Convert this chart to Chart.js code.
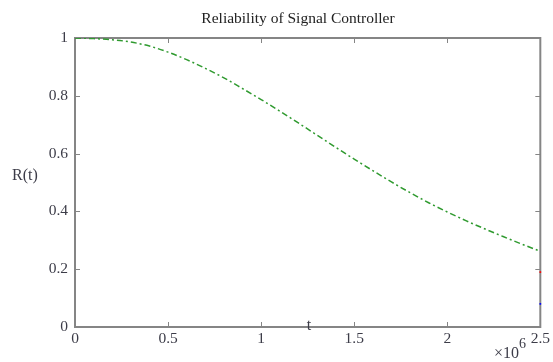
<!DOCTYPE html>
<html>
<head>
<meta charset="utf-8">
<script src="https://cdn.jsdelivr.net/npm/chart.js@4/dist/chart.umd.min.js"></script>
<style>
  html, body { margin: 0; padding: 0; background: #fff; }
  #wrap { width: 553px; height: 362px; }
</style>
</head>
<body>
<div id="wrap"><canvas id="relChart" width="553" height="362"></canvas></div>
<script>
// t in units of 10^6
const tValues = [0, 0.1, 0.2, 0.3, 0.4, 0.5, 0.6, 0.7, 0.8, 0.9, 1.0, 1.1, 1.2,
                 1.3, 1.4, 1.5, 1.6, 1.7, 1.8, 1.9, 2.0, 2.1, 2.2, 2.3, 2.4, 2.5];
const reliability = [1.000, 0.998, 0.994, 0.986, 0.972, 0.951, 0.925, 0.895, 0.862, 0.825,
                     0.787, 0.747, 0.706, 0.664, 0.622, 0.581, 0.541, 0.502, 0.465, 0.430,
                     0.398, 0.368, 0.340, 0.313, 0.287, 0.262];
// small red / blue marks visible on the right border
const redMark = [{ x: 2.5, y: 0.19 }];
const blueMark = [{ x: 2.5, y: 0.08 }];

const xTicks = [0, 0.5, 1, 1.5, 2, 2.5];
const yTicks = [0, 0.2, 0.4, 0.6, 0.8, 1];
const xTickLabels = ['0', '0.5', '1', '1.5', '2', '2.5'];
const yTickLabels = ['0', '0.2', '0.4', '0.6', '0.8', '1'];

const serif = '"Liberation Serif", "DejaVu Serif", serif';
const labelColor = '#3c3c48';
const boxColor = '#858585';

// MATLAB style box, inward ticks and extra labels (drawn under the lines)
const matlabFrame = {
    id: 'matlabFrame',
    beforeDatasetsDraw(chart) {
        const ctx = chart.ctx;
        const a = chart.chartArea;
        const xs = chart.scales.x, ys = chart.scales.y;
        ctx.save();
        ctx.strokeStyle = boxColor;
        ctx.lineWidth = 2;
        ctx.strokeRect(a.left, a.top, a.right - a.left, a.bottom - a.top);
        ctx.lineWidth = 1;
        ctx.beginPath();
        xTicks.forEach(function(v) {
            const px = Math.round(xs.getPixelForValue(v)) + 0.5;
            ctx.moveTo(px, a.bottom); ctx.lineTo(px, a.bottom - 5);
            ctx.moveTo(px, a.top); ctx.lineTo(px, a.top + 5);
        });
        yTicks.forEach(function(v) {
            const py = Math.round(ys.getPixelForValue(v)) + 0.5;
            ctx.moveTo(a.left, py); ctx.lineTo(a.left + 5, py);
            ctx.moveTo(a.right, py); ctx.lineTo(a.right - 5, py);
        });
        ctx.stroke();

        // title
        ctx.fillStyle = '#222';
        ctx.font = '15.5px ' + serif;
        ctx.textAlign = 'center';
        ctx.textBaseline = 'alphabetic';
        ctx.fillText('Reliability of Signal Controller', 298, 23);

        // axis labels
        ctx.fillStyle = labelColor;
        ctx.font = '16px ' + serif;
        ctx.fillText('R(t)', 25, 180);
        ctx.fillText('t', 309, 330);

        // exponent
        ctx.font = '16px ' + serif;
        ctx.textAlign = 'left';
        ctx.fillText('\u00d710', 494, 358);
        ctx.font = '14px ' + serif;
        ctx.fillText('6', 519, 348);
        ctx.restore();
    }
};

const ctx = document.getElementById('relChart');
new Chart(ctx, {
    type: 'scatter',
    data: {
        datasets: [{
            label: 'R(t)',
            data: tValues.map(function(t, i) { return { x: t, y: reliability[i] }; }),
            showLine: true,
            borderColor: '#2f9a2f',
            borderWidth: 1.5,
            borderDash: [6, 3, 2, 3],
            pointRadius: 0,
            cubicInterpolationMode: 'monotone',
            fill: false
        }, {
            label: 'red',
            data: redMark,
            pointStyle: 'rect',
            pointRadius: 1.2,
            backgroundColor: '#ff0000',
            borderColor: '#ff0000',
            borderWidth: 0,
            clip: false
        }, {
            label: 'blue',
            data: blueMark,
            pointStyle: 'rect',
            pointRadius: 1.2,
            backgroundColor: '#0000ff',
            borderColor: '#0000ff',
            borderWidth: 0,
            clip: false
        }]
    },
    options: {
        responsive: false,
        animation: false,
        layout: { padding: { top: 38, right: 8, left: 0, bottom: 0 } },
        scales: {
            x: {
                type: 'linear',
                min: 0,
                max: 2.5,
                afterBuildTicks: function(s) { s.ticks = xTicks.map(function(v) { return { value: v }; }); },
                afterFit: function(s) { s.height = 35; },
                grid: { display: false, drawTicks: false },
                border: { display: false },
                ticks: {
                    padding: 3,
                    color: labelColor,
                    font: { family: serif, size: 15.5 },
                    maxRotation: 0,
                    autoSkip: false,
                    callback: function(v, i) { return xTickLabels[i]; }
                }
            },
            y: {
                type: 'linear',
                min: 0,
                max: 1,
                afterBuildTicks: function(s) { s.ticks = yTicks.map(function(v) { return { value: v }; }); },
                afterFit: function(s) { s.width = 75; },
                grid: { display: false, drawTicks: false },
                border: { display: false },
                ticks: {
                    padding: 7,
                    color: labelColor,
                    font: { family: serif, size: 15.5 },
                    autoSkip: false,
                    callback: function(v, i) { return yTickLabels[i]; }
                }
            }
        },
        plugins: {
            legend: { display: false },
            title: { display: false },
            tooltip: { enabled: false }
        }
    },
    plugins: [matlabFrame]
});
</script>
</body>
</html>
